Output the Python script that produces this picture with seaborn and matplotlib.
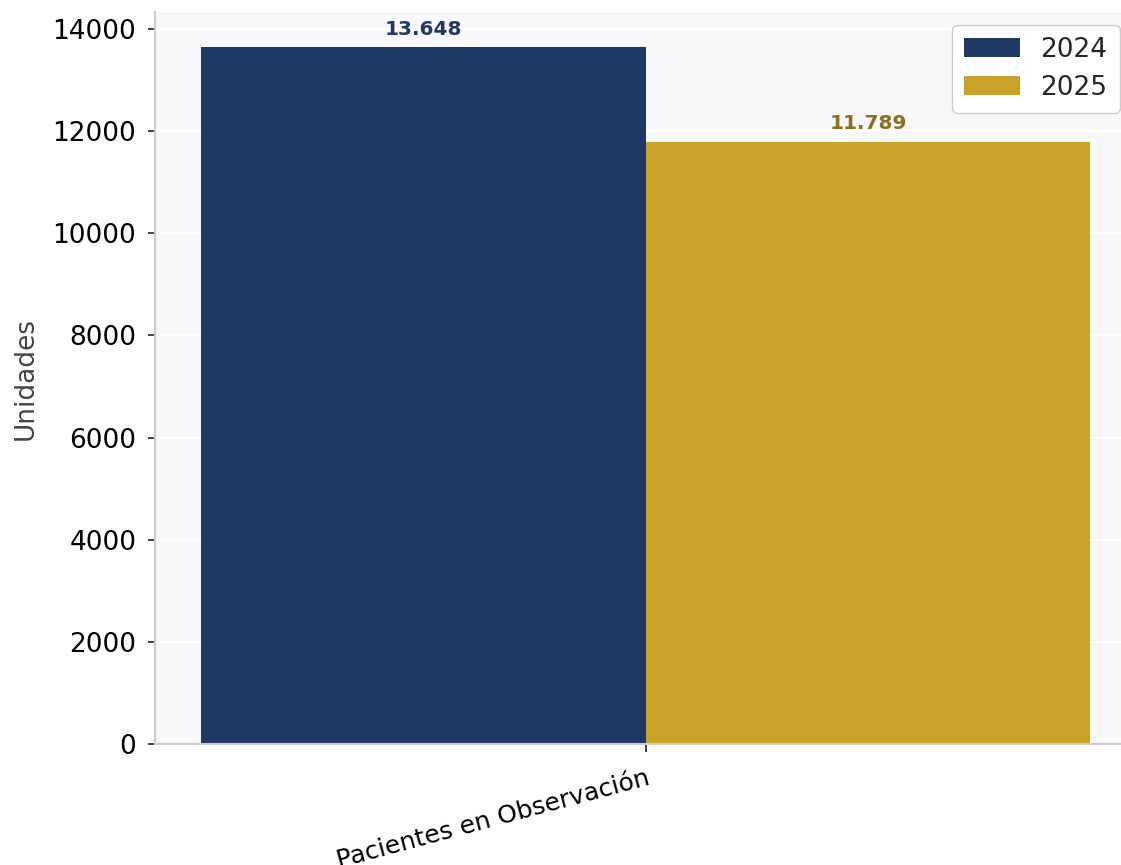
import pandas as pd
import matplotlib
matplotlib.use('Agg')
import matplotlib.pyplot as plt
import seaborn as sns

# Datos
categorias = ['Pacientes en Observación']
anios = ['2024', '2025']
valores_2024 = [13648]
valores_2025 = [11789]
colores = ['#203864', '#c9a22a']
colores_texto = ['#203864', '#8f6d1c']

df = pd.DataFrame({
    'categoria': categorias * 2,
    'anio': [anios[0]] * len(categorias) + [anios[1]] * len(categorias),
    'valor': valores_2024 + valores_2025,
})

sns.set_style('whitegrid')
plt.rcParams['font.family'] = ['DejaVu Sans']

fig = plt.figure(figsize=(11.21, 8.65), dpi=100)
ax = fig.add_axes([0.1383, 0.1399, 0.8725, 0.8462])

sns.barplot(data=df, x='categoria', y='valor', hue='anio', palette=colores,
            width=0.8, linewidth=0, saturation=1, ax=ax)

ax.set_facecolor('#f7f8fc')
ax.grid(axis='y', color='white', linewidth=1.5)
ax.grid(axis='x', visible=False)
ax.set_axisbelow(True)

for s in ['top', 'right']:
    ax.spines[s].set_visible(False)
for s in ['left', 'bottom']:
    ax.spines[s].set_color('#cccccc')
    ax.spines[s].set_linewidth(1.5)

ax.set_xlim(-0.4414, 0.4386)
ax.set_ylim(0, max(valores_2024 + valores_2025) * 1.05)
ax.set_yticks(range(0, 14001, 2000))

ax.tick_params(axis='y', labelsize=19, length=5, width=1.2, color='#222222',
               labelcolor='black', pad=8.5, left=True)
ax.tick_params(axis='x', labelsize=18, length=6, width=1.2, color='#222222',
               labelcolor='black', pad=10, bottom=True)
plt.setp(ax.get_xticklabels(), rotation=15, ha='right', rotation_mode='anchor')

ax.set_xlabel('')
ax.set_ylabel('Unidades', fontsize=19, color='#444444', labelpad=10)

# Etiquetas de valor sobre cada barra
for cont, col in zip(ax.containers, colores_texto):
    for bar in cont:
        h = bar.get_height()
        ax.annotate(f'{int(h):,}'.replace(',', '.'),
                    (bar.get_x() + bar.get_width() / 2, h),
                    xytext=(0, 6), textcoords='offset points',
                    ha='center', va='bottom', fontsize=14.5, fontweight='bold', color=col)

leg = ax.legend(loc='upper right', bbox_to_anchor=(1119.5 / 1121, 1 - 25 / 865),
                bbox_transform=fig.transFigure, fontsize=19, frameon=True,
                borderaxespad=0, handlelength=2.1, borderpad=0.45, labelspacing=0.45)
leg.get_frame().set_edgecolor('#cccccc')
leg.get_frame().set_facecolor('white')
leg.get_frame().set_alpha(1)

fig.savefig('out.png', dpi=100)
